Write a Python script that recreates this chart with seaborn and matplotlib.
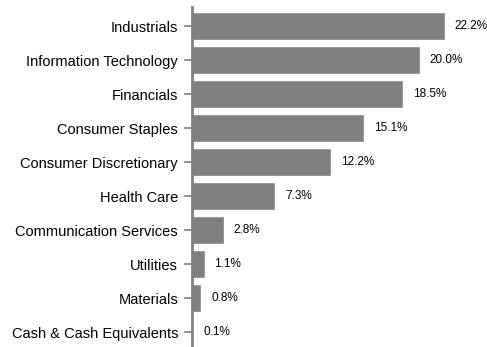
import matplotlib
matplotlib.use("Agg")
import matplotlib.pyplot as plt
import seaborn as sns
import pandas as pd

categories = ["Industrials", "Information Technology", "Financials", "Consumer Staples",
              "Consumer Discretionary", "Health Care", "Communication Services",
              "Utilities", "Materials", "Cash & Cash Equivalents"]
values = [22.2, 20.0, 18.5, 15.1, 12.2, 7.3, 2.8, 1.1, 0.8, 0.1]
value_labels = ["22.2%", "20.0%", "18.5%", "15.1%", "12.2%", "7.3%", "2.8%", "1.1%", "0.8%", "0.1%"]

sns.set_style("white")
plt.rcParams['font.family'] = ['Liberation Sans', 'DejaVu Sans']

df = pd.DataFrame({"category": categories, "value": values})

fig = plt.figure(figsize=(4.87, 3.47), dpi=100)
ax = fig.add_axes([192/487, 0, 1 - 192/487, 1 - 7/347])
sns.barplot(data=df, x="value", y="category", color="#808080", saturation=1,
            width=0.82, ax=ax, orient="h")

for i, (v, lab) in enumerate(zip(values, value_labels)):
    ax.annotate(lab, xy=(v, i), xytext=(10, 0), textcoords="offset pixels",
                va="center", ha="left", fontsize=8.5, color="#000000")

ax.set_xlim(0, (487 - 193) / 11.35)
ax.set_ylim(9.44, -0.56)
ax.set_xlabel("")
ax.set_ylabel("")
ax.set_xticks([])
for s in ["top", "right", "bottom"]:
    ax.spines[s].set_visible(False)
ax.spines["left"].set_color("#808080")
ax.spines["left"].set_linewidth(2)
ax.tick_params(axis="y", length=6, width=1.2, color="#808080", pad=4, labelsize=10.5,
               left=True, labelcolor="#000000")

fig.savefig("out.png", dpi=100)
